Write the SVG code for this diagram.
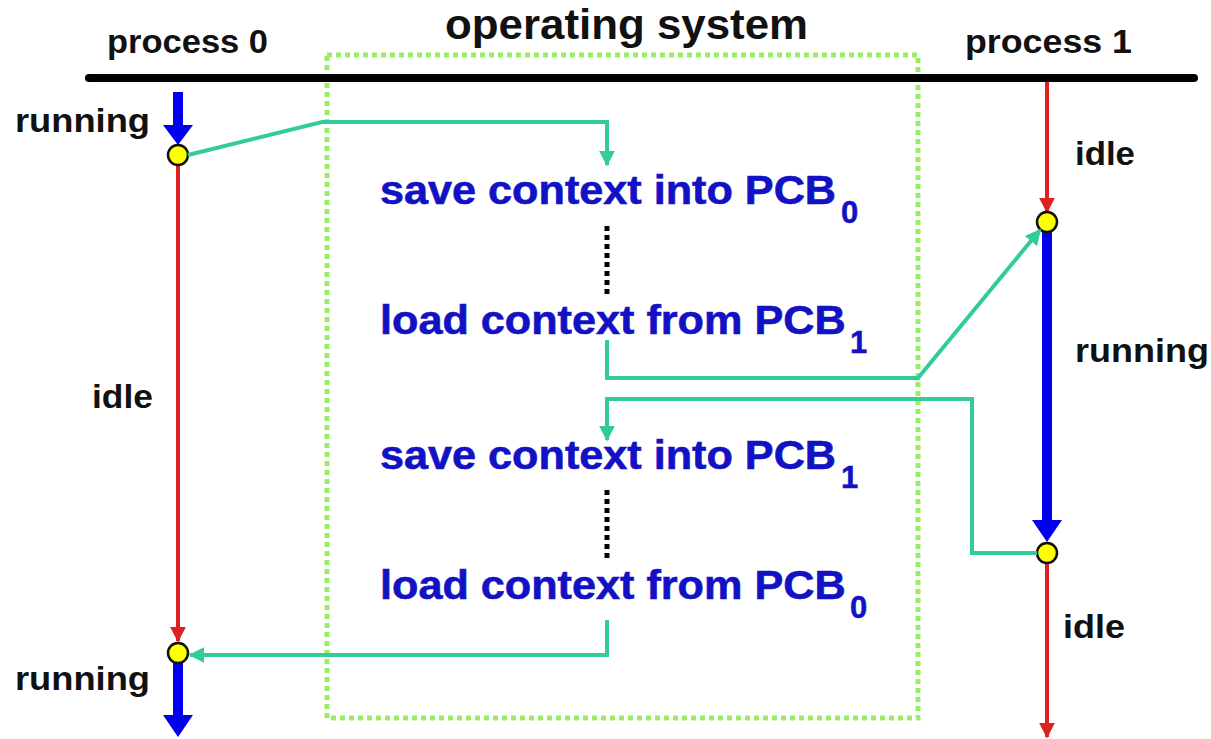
<svg xmlns="http://www.w3.org/2000/svg" width="1211" height="739" viewBox="0 0 1211 739">
<defs>
<style>
.lbl{font-family:"Liberation Sans",Arial,sans-serif;font-weight:bold;fill:#111;font-size:34px}
.os{font-family:"Liberation Sans",Arial,sans-serif;font-weight:bold;fill:#1212c4;stroke:#1212c4;stroke-width:0.6;font-size:40px}
.sub{font-family:"Liberation Sans",Arial,sans-serif;font-weight:bold;fill:#1212c4;stroke:#1212c4;stroke-width:0.5;font-size:31px}
.tl{fill:none;stroke:#33cc99;stroke-width:4;stroke-linejoin:miter}
.red{stroke:#dd2222;stroke-width:4;fill:none}
.dot{fill:#ffff00;stroke:#111;stroke-width:2.5}
</style>
<marker id="ta" viewBox="0 0 10 10" refX="9" refY="5" markerWidth="4" markerHeight="4" orient="auto" markerUnits="strokeWidth"><path d="M0,0L10,5L0,10z" fill="#33cc99"/></marker>
<marker id="ra" viewBox="0 0 10 10" refX="9" refY="5" markerWidth="4" markerHeight="4" orient="auto" markerUnits="strokeWidth"><path d="M0,0L10,5L0,10z" fill="#dd2222"/></marker>
</defs>
<rect width="1211" height="739" fill="#fff"/>
<g id="os-box"><rect x="327" y="55" width="591" height="663" fill="none" stroke="#99ee66" stroke-width="5" stroke-dasharray="5 4"/></g>
<g id="timeline"><line x1="89" y1="78" x2="1194" y2="78" stroke="#000" stroke-width="8" stroke-linecap="round"/></g>
<g id="titles">
<text class="lbl" x="107" y="53" textLength="161" lengthAdjust="spacingAndGlyphs" style="font-size:33px">process 0</text>
<text class="lbl" x="445" y="39" textLength="363" lengthAdjust="spacingAndGlyphs" style="font-size:42px">operating system</text>
<text class="lbl" x="965" y="53" textLength="167" lengthAdjust="spacingAndGlyphs" style="font-size:33px">process 1</text>
</g>
<g id="process0">
<line class="red" x1="178" y1="165" x2="178" y2="641" marker-end="url(#ra)"/>
<path d="M173,92H183V125H193L178,145L163,125H173z" fill="#0000ee"/>
<path d="M173,663H183V715H193L178,737L163,715H173z" fill="#0000ee"/>
<circle class="dot" cx="178" cy="155" r="10"/>
<circle class="dot" cx="178" cy="653" r="10"/>
<text class="lbl" x="15" y="132" textLength="135" lengthAdjust="spacingAndGlyphs">running</text>
<text class="lbl" x="92" y="408" textLength="61" lengthAdjust="spacingAndGlyphs">idle</text>
<text class="lbl" x="15" y="690" textLength="135" lengthAdjust="spacingAndGlyphs">running</text>
</g>
<g id="process1">
<line class="red" x1="1047" y1="82" x2="1047" y2="212" marker-end="url(#ra)"/>
<path d="M1042,232H1052V520H1062L1047,542L1032,520H1042z" fill="#0000ee"/>
<line class="red" x1="1047" y1="563" x2="1047" y2="737" marker-end="url(#ra)"/>
<circle class="dot" cx="1047" cy="222" r="10"/>
<circle class="dot" cx="1047" cy="553" r="10"/>
<text class="lbl" x="1075" y="165" textLength="60" lengthAdjust="spacingAndGlyphs">idle</text>
<text class="lbl" x="1075" y="362" textLength="134" lengthAdjust="spacingAndGlyphs">running</text>
<text class="lbl" x="1063" y="638" textLength="62" lengthAdjust="spacingAndGlyphs">idle</text>
</g>
<g id="steps">
<text class="os" transform="translate(380,204) scale(1.08,1)">save context into PCB</text>
<text class="sub" x="841" y="223">0</text>
<text class="os" transform="translate(380,334) scale(1.08,1)">load context from PCB</text>
<text class="sub" x="850" y="353">1</text>
<text class="os" transform="translate(380,469) scale(1.08,1)">save context into PCB</text>
<text class="sub" x="841" y="488">1</text>
<text class="os" transform="translate(380,599) scale(1.08,1)">load context from PCB</text>
<text class="sub" x="850" y="618">0</text>
<line x1="607" y1="226" x2="607" y2="296" stroke="#000" stroke-width="5" stroke-dasharray="5 4"/>
<line x1="607" y1="490" x2="607" y2="560" stroke="#000" stroke-width="5" stroke-dasharray="5 4"/>
</g>
<g id="connectors">
<polyline class="tl" points="188,155 322,122 607,122 607,165" marker-end="url(#ta)"/>
<polyline class="tl" points="607,340 607,378 918,378 1040,230" marker-end="url(#ta)"/>
<polyline class="tl" points="1037,553 972,553 972,399 607,399 607,440" marker-end="url(#ta)"/>
<polyline class="tl" points="607,620 607,655 190,655" marker-end="url(#ta)"/>
</g>
</svg>
